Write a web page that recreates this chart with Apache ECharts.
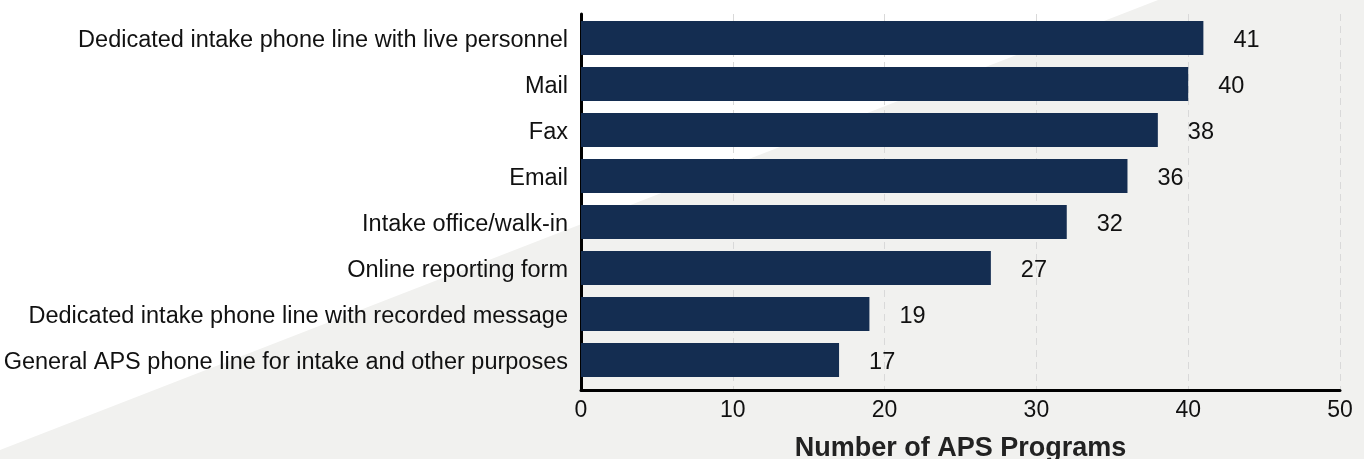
<!DOCTYPE html>
<html>
<head>
<meta charset="utf-8">
<script src="https://cdn.jsdelivr.net/npm/echarts@6/dist/echarts.min.js"></script>
<style>
  html, body { margin: 0; padding: 0; background: #ffffff; }
  #chart { width: 1364px; height: 459px; }
</style>
</head>
<body>
<div id="chart"></div>
<script>
// Intake methods used by APS programs, top to bottom
const categories = [
  'Dedicated intake phone line with live personnel',
  'Mail',
  'Fax',
  'Email',
  'Intake office/walk-in',
  'Online reporting form',
  'Dedicated intake phone line with recorded message',
  'General APS phone line for intake and other purposes'
];
const programCounts = [41, 40, 38, 36, 32, 27, 19, 17];
const xTicks = [0, 10, 20, 30, 40, 50];
const xAxisTitle = 'Number of APS Programs';

const FONT = 'Liberation Sans';
const BAR = '#142d51';
const BG_SHADE = '#f1f1ef';

const chart = echarts.init(document.getElementById('chart'), null, { renderer: 'canvas' });
const W = chart.getWidth(), H = chart.getHeight();

chart.setOption({
  animation: false,
  backgroundColor: '#ffffff',
  textStyle: { fontFamily: FONT },
  graphic: [{
    type: 'polygon',
    z: -10,
    silent: true,
    shape: { points: [[0, H - 9], [W * 0.849, 0], [W, 0], [W, H], [0, H]] },
    style: { fill: BG_SHADE }
  }],
  grid: [
    // bars
    { left: 581, right: 24, top: 15, height: 368, containLabel: false, outerBoundsMode: 'none' },
    // frame: axis lines, gridlines, ticks and axis title
    { left: 581, right: 24, top: 14, bottom: 69, containLabel: false, outerBoundsMode: 'none' }
  ],
  xAxis: [
    { gridIndex: 0, type: 'value', min: 0, max: 50, show: false },
    {
      gridIndex: 1, type: 'value', min: xTicks[0], max: xTicks[xTicks.length - 1],
      interval: xTicks[1] - xTicks[0],
      axisLine: { show: true, onZero: false, lineStyle: { color: '#000000', width: 3 } },
      axisTick: { show: false },
      splitLine: { show: true, lineStyle: { color: '#d9d9d9', type: [7, 5], width: 1 } },
      axisLabel: { color: '#111111', fontSize: 23, fontFamily: FONT, margin: 9 },
      name: xAxisTitle,
      nameLocation: 'middle',
      nameGap: 45,
      nameTextStyle: { color: '#222222', fontSize: 27, fontWeight: 'bold', fontFamily: FONT }
    }
  ],
  yAxis: [
    {
      gridIndex: 0, type: 'category', data: categories, inverse: true,
      axisLine: { show: false },
      axisTick: { show: false },
      splitLine: { show: false },
      axisLabel: {
        margin: 13,
        formatter: (v) => '{c|' + v + '}',
        rich: {
          c: {
            color: '#111111', fontSize: 23.5, fontFamily: FONT,
            padding: [5, 0, 0, 0]
          }
        }
      }
    },
    {
      gridIndex: 1, type: 'value', min: 0, max: 1,
      axisLine: { show: true, onZero: false, lineStyle: { color: '#000000', width: 3 } },
      axisTick: { show: false },
      axisLabel: { show: false },
      splitLine: { show: false }
    }
  ],
  series: [{
    type: 'bar',
    xAxisIndex: 0,
    yAxisIndex: 0,
    data: programCounts,
    barWidth: '74%',
    itemStyle: { color: BAR },
    label: {
      show: true,
      position: 'right',
      distance: 30,
      offset: [0, 3],
      color: '#111111',
      fontSize: 23.5,
      fontFamily: FONT
    }
  }]
});
</script>
</body>
</html>
